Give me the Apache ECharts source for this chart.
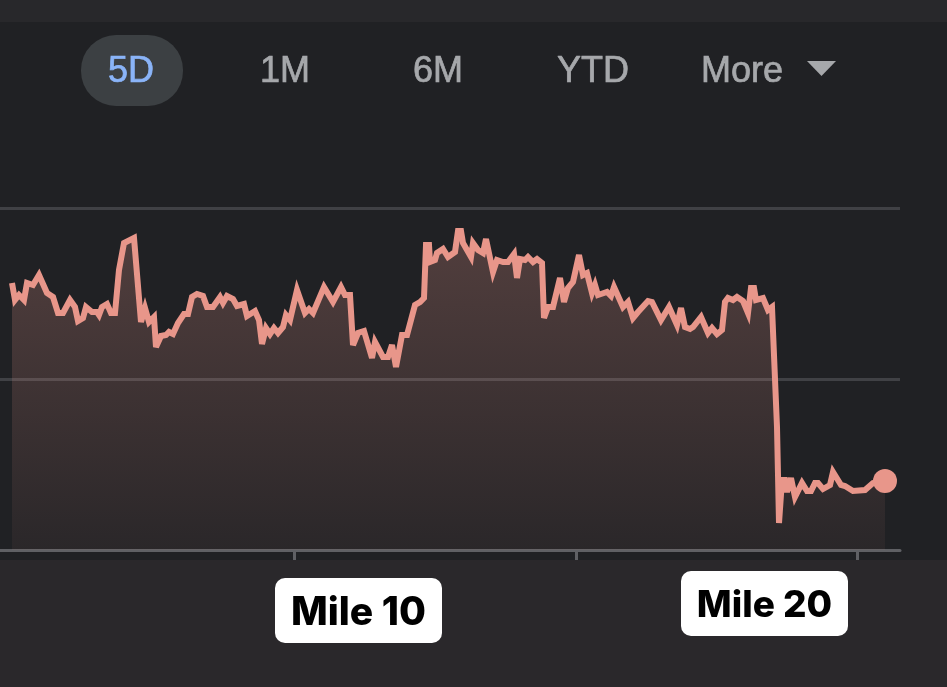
<!DOCTYPE html>
<html>
<head>
<meta charset="utf-8">
<style>
  html, body { margin: 0; padding: 0; background: #202124; }
  #chart { width: 947px; height: 687px; }
</style>
<script src="https://cdn.jsdelivr.net/npm/echarts@6/dist/echarts.min.js"></script>
</head>
<body>
<div id="chart"></div>
<script>
// Values
var tiempos = [
  12,15,19,24,27,33,39,47,53,58,63,70,75,78,83,86,92,97,99,102,107,111,115,119,124,134,141,143,145,149,154,156,161,166,169,173,178,184,188,192,197,203,207,213,220,223,227,233,237,244,247,255,259,262,266,270,274,278,283,286,290,297,
  305,309,313,324,333,341,345,350,353,358,364,372,375,383,388,392,396,402,407,415,420,424,426,429,430,435,437,443,448,455,458,461,463,471,473,478,483,486,493,497,503,508,514,517,520,525,528,533,537,542,544,548,553,560,564,568,573,579,583,587,592,595,598,
  607,611,614,623,628,633,638,648,652,661,669,677,681,685,690,693,701,708,712,717,722,725,728,733,737,743,748,751,754,756,763,768,772,777,779,782,785,787,791,795,802,807,811,815,818,823,830,833,841,845,853,865,873,885
];
var precios = [
  267,250,255,250,267,265,275,257,253,237,237,250,243,229,232,243,238,238,235,243,246,237,237,280,307,312,228,228,242,228,233,203,214,215,218,216,227,236,236,253,256,254,243,243,253,247,254,251,244,246,234,239,230,206,222,216,222,217,223,235,230,260,
  237,241,237,263,248,263,255,255,205,217,219,192,208,193,193,205,183,215,215,245,248,252,305,305,288,290,297,301,293,298,319,319,307,293,307,300,297,311,278,290,288,288,296,272,291,290,293,288,291,287,232,243,243,272,248,262,268,295,275,277,257,265,255,
  258,254,263,243,248,232,238,249,248,230,243,225,242,223,221,223,233,217,222,216,220,248,252,250,253,249,237,262,262,250,252,240,243,123,27,70,70,58,72,53,67,59,59,67,67,61,65,78,65,64,59,60,67,69
];
var marcasEje = [294, 576, 857];
var rangos = ["5D", "1M", "6M", "YTD", "More"];
var etiquetas = ["Mile 10", "Mile 20"];

var puntos = tiempos.map(function (t, i) {
  return [t, precios[i]];
});

var colorLinea = "#e8968a";
var fuenteBoton = '"Liberation Sans", Arial, sans-serif';
var fuenteEtiqueta = 'Inter, "Liberation Sans", sans-serif';

// Texto de los botones de rango
function textoRango(texto, x, color) {
  return {
    type: "text",
    z: 10,
    style: {
      text: texto,
      x: x,
      y: 72,
      align: "center",
      verticalAlign: "middle",
      fill: color,
      stroke: color,
      lineWidth: 0.7,
      font: "36px " + fuenteBoton,
    },
  };
}

// Etiqueta blanca con esquinas redondeadas
function etiqueta(texto, x, y, tamano) {
  return [
    {
      type: "rect",
      z: 10,
      shape: { x: x, y: y, width: 167, height: 65, r: 10 },
      style: { fill: "#ffffff" },
    },
    {
      type: "text",
      z: 11,
      style: {
        text: texto,
        x: x + 83.5,
        y: y + 35,
        align: "center",
        verticalAlign: "middle",
        fill: "#000000",
        font: "800 " + tamano + "px " + fuenteEtiqueta,
        shadowColor: "rgba(0,0,0,0.35)",
        shadowBlur: 3,
        shadowOffsetY: 2,
      },
    },
  ];
}

var option = {
  animation: false,
  backgroundColor: "#202124",
  grid: { left: 0, width: 900, top: 208, height: 342 },
  xAxis: {
    type: "value",
    min: 0,
    max: 900,
    splitLine: { show: false },
    axisLine: { show: true, onZero: false, lineStyle: { color: "#5f6064", width: 3 } },
    axisTick: {
      show: true,
      customValues: marcasEje,
      length: 10,
      lineStyle: { color: "#5f6064", width: 3 },
    },
    axisLabel: { show: false },
  },
  yAxis: {
    type: "value",
    min: 0,
    max: 342,
    interval: 171,
    axisLine: { show: false },
    axisTick: { show: false },
    axisLabel: { show: false },
    splitLine: { show: true, lineStyle: { color: "#404145", width: 3 } },
  },
  series: [
    {
      type: "line",
      data: puntos,
      showSymbol: false,
      smooth: false,
      z: 3,
      lineStyle: { color: colorLinea, width: 6, join: "miter", miterLimit: 4 },
      areaStyle: {
        opacity: 1,
        color: {
          type: "linear",
          x: 0,
          y: 0,
          x2: 0,
          y2: 1,
          colorStops: [
            { offset: 0, color: "rgba(232,150,138,0.25)" },
            { offset: 1, color: "rgba(232,150,138,0.05)" },
          ],
        },
      },
    },
    {
      type: "scatter",
      data: [puntos[puntos.length - 1]],
      symbolSize: 24,
      z: 4,
      itemStyle: { color: colorLinea, opacity: 1 },
    },
  ],
  graphic: [
    // Bandas de fondo
    { type: "rect", z: -10, silent: true, shape: { x: 0, y: 0, width: 947, height: 22 }, style: { fill: "#28282b" } },
    { type: "rect", z: -10, silent: true, shape: { x: 0, y: 560, width: 947, height: 127 }, style: { fill: "#2a282b" } },
    // Boton activo
    {
      type: "rect",
      z: 9,
      shape: { x: 81, y: 35, width: 102, height: 71, r: 35 },
      style: { fill: "#3c4043" },
    },
    textoRango(rangos[0], 131, "#8ab4f8"),
    textoRango(rangos[1], 285, "#a6a8ab"),
    textoRango(rangos[2], 438, "#a6a8ab"),
    textoRango(rangos[3], 593, "#a6a8ab"),
    textoRango(rangos[4], 742, "#a6a8ab"),
    {
      type: "polygon",
      z: 10,
      shape: { points: [[807, 61], [836, 61], [821.5, 76]] },
      style: { fill: "#a6a8ab" },
    },
  ]
    .concat(etiqueta(etiquetas[0], 275, 578, 39))
    .concat(etiqueta(etiquetas[1], 681, 571, 37)),
};

var myChart = echarts.init(document.getElementById("chart"), null, { renderer: "canvas" });
myChart.setOption(option);
</script>
</body>
</html>
